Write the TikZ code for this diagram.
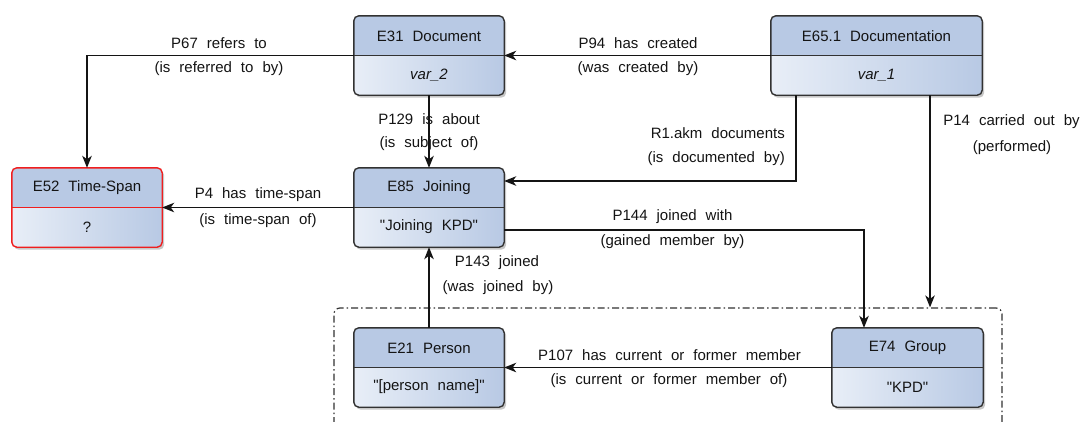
\documentclass[tikz,border=0pt]{standalone}
\usepackage{fontspec}
\setmainfont{Liberation Sans}
\usetikzlibrary{arrows.meta}
\definecolor{topblue}{RGB}{184,201,228}
\definecolor{lightblue}{RGB}{232,238,247}
\definecolor{boxedge}{RGB}{50,50,50}
\definecolor{ink}{RGB}{20,20,20}
\definecolor{redge}{RGB}{240,30,30}
\newcommand\labfont{\fontsize{15}{18}\selectfont\spaceskip=9pt\relax}
\newcommand\dq{\textquotedbl}
\tikzset{
  txt/.style={inner sep=0pt, text=ink, font=\labfont},
  boxnode/.style={inner sep=0pt, minimum height=79pt},
  conn/.style={draw=ink, line width=1.3pt, -{Stealth[length=12pt,width=9.5pt,inset=3.5pt]}},
  grpbox/.style={draw=boxedge, line width=1.2pt, rounded corners=6pt,
    dash pattern=on 7pt off 3pt on 1.5pt off 3pt, inner sep=0pt},
}
% name, cx, cy, width, title, value, border colour
\newcommand\entity[7]{%
  \node[boxnode, minimum width=#4pt] (#1) at (#2,#3) {};
  \fill[black, opacity=0.22, rounded corners=5pt]
    ([xshift=2pt,yshift=-2.5pt]#1.south west) rectangle ([xshift=2pt,yshift=-2.5pt]#1.north east);
  \begin{scope}
    \clip[rounded corners=5pt] (#1.south west) rectangle (#1.north east);
    \fill[topblue] (#1.west) rectangle (#1.north east);
    \shade[left color=lightblue, right color=topblue] (#1.south west) rectangle (#1.east);
  \end{scope}
  \draw[#7, line width=1.4pt, rounded corners=5pt] (#1.south west) rectangle (#1.north east);
  \draw[#7, line width=1.2pt] (#1.west) -- (#1.east);
  \node[txt] (#1-t) at ([yshift=19.5pt]#1.center) {#5};
  \node[txt] (#1-v) at ([yshift=-19.5pt]#1.center) {#6};
}
\begin{document}
\begin{tikzpicture}[x=1pt, y=-1pt]
\useasboundingbox (0,0) rectangle (1083,421);
\clip (0,0) rectangle (1083,421);
\fill[white] (0,0) rectangle (1083,421);

% group
\node[grpbox, minimum width=668pt, minimum height=150pt] (grp) at (668,383) {};

\entity{e31}{429}{55.5}{150}{E31 Document}{\textit{var\_2}}{boxedge}
\entity{e65}{876.5}{55.5}{211}{E65.1 Documentation}{\textit{var\_1}}{boxedge}
\entity{e52}{87}{207.5}{150}{E52 Time-Span}{?}{redge}
\entity{e85}{429}{207.5}{150}{E85 Joining}{\dq Joining KPD\dq}{boxedge}
\entity{e21}{429}{367.5}{150}{E21 Person}{\dq[person name]\dq}{boxedge}
\entity{e74}{907.5}{367.5}{151}{E74 Group}{\dq KPD\dq}{boxedge}

% connectors
\draw[conn] (e31.west) -| (e52.north);
\draw[conn] (e65.west) -- (e31.east);
\draw[conn] (e31.south) -- (e85.north);
\draw[conn] ([xshift=-80.5pt]e65.south) |- ([yshift=26.5pt]e85.east);
\coordinate (p14s) at ([xshift=53.5pt]e65.south);
\draw[conn] (p14s) -- (p14s |- grp.north);
\draw[conn] (e85.west) -- (e52.east);
\draw[conn] ([yshift=-22.5pt]e85.east) -| ([xshift=-43.5pt]e74.north);
\draw[conn] (e21.north) -- (e85.south);
\draw[conn] (e74.west) -- (e21.east);

% labels
\node[txt] (l1a) at (219,43) {P67 refers to};
\node[txt] (l1b) at (219,68.5) {(is referred to by)};
\node[txt] (l2a) at (638,43) {P94 has created};
\node[txt] (l2b) at (638,68.5) {(was created by)};
\node[txt] (l3a) at (429,119) {P129 is about};
\node[txt] (l3b) at (429,143.5) {(is subject of)};
\node[txt, anchor=east] (l4a) at (785,133) {R1.akm documents};
\node[txt, anchor=east] (l4b) at (785,158.5) {(is documented by)};
\node[txt] (l5a) at (1011.5,122) {P14 carried out by};
\node[txt] (l5b) at (1012,148) {(performed)};
\node[txt] (l6a) at (258,195) {P4 has time-span};
\node[txt] (l6b) at (258,220.5) {(is time-span of)};
\node[txt] (l7a) at (672.5,217) {P144 joined with};
\node[txt] (l7b) at (672.5,242) {(gained member by)};
\node[txt] (l8a) at (497,263) {P143 joined};
\node[txt] (l8b) at (498,287.5) {(was joined by)};
\node[txt] (l9a) at (669.5,355) {P107 has current or former member};
\node[txt] (l9b) at (669,380.5) {(is current or former member of)};
\end{tikzpicture}
\end{document}
